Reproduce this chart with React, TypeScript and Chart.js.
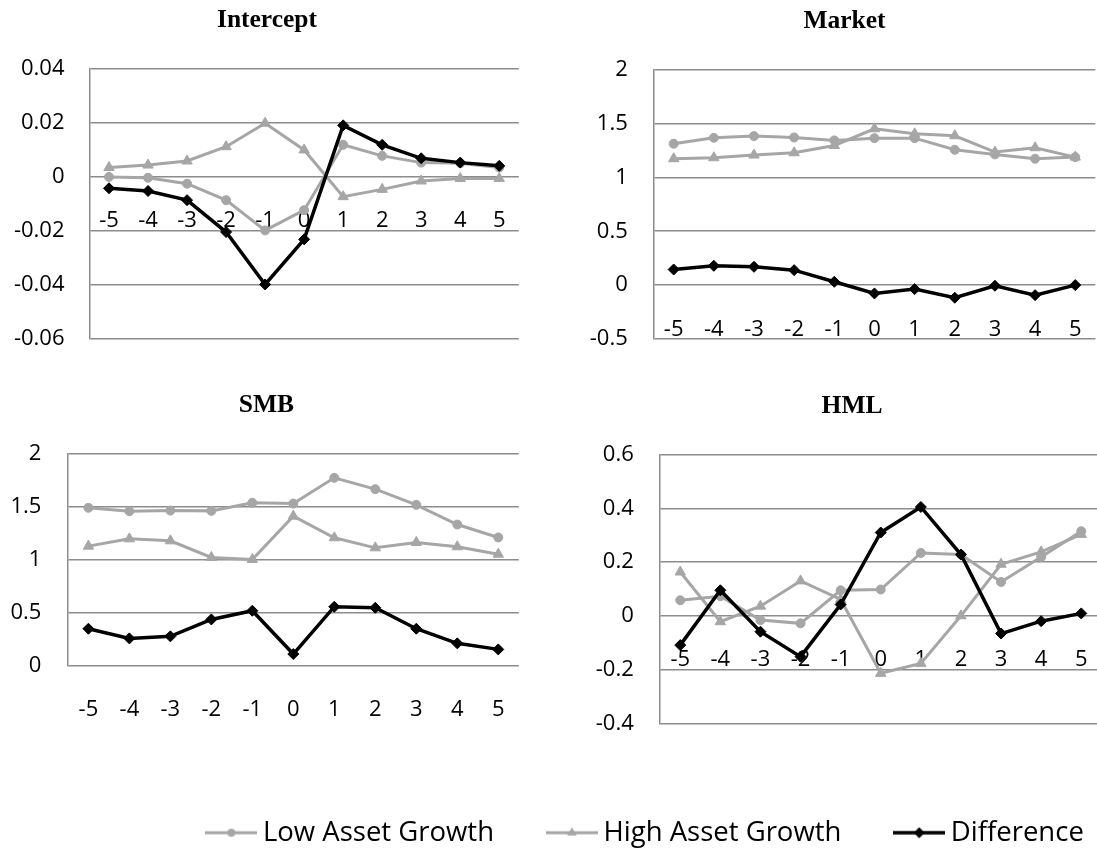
import React, { useEffect, useRef } from 'react';
import { Chart, registerables } from 'chart.js';

Chart.register(...registerables);

// ---------------- data ----------------
const PERIODS = ['-5', '-4', '-3', '-2', '-1', '0', '1', '2', '3', '4', '5'];
const SERIES_NAMES = ['Low Asset Growth', 'High Asset Growth', 'Difference'];

const INTERCEPT_LOW = [0.0, -0.0003, -0.0025, -0.0086, -0.0198, -0.0123, 0.0119, 0.0078, 0.0053, 0.0051, 0.0035];
const INTERCEPT_HIGH = [0.0035, 0.0044, 0.0059, 0.0112, 0.0199, 0.01, -0.0073, -0.0046, -0.0015, -0.0006, -0.0006];
const INTERCEPT_DIFF = [-0.0042, -0.0052, -0.0086, -0.0204, -0.0398, -0.0231, 0.0191, 0.0119, 0.0069, 0.0053, 0.0041];
const INTERCEPT_TICKS = [-0.06, -0.04, -0.02, 0, 0.02, 0.04];

const MARKET_LOW = [1.312, 1.367, 1.383, 1.37, 1.343, 1.364, 1.364, 1.256, 1.213, 1.173, 1.188];
const MARKET_HIGH = [1.173, 1.182, 1.207, 1.228, 1.296, 1.451, 1.404, 1.386, 1.235, 1.275, 1.188];
const MARKET_DIFF = [0.145, 0.179, 0.17, 0.139, 0.031, -0.077, -0.037, -0.117, -0.006, -0.093, 0.0];
const MARKET_TICKS = [-0.5, 0, 0.5, 1, 1.5, 2];

const SMB_LOW = [1.491, 1.459, 1.465, 1.462, 1.538, 1.531, 1.774, 1.667, 1.519, 1.333, 1.211];
const SMB_HIGH = [1.129, 1.198, 1.179, 1.022, 1.003, 1.412, 1.208, 1.113, 1.164, 1.123, 1.053];
const SMB_DIFF = [0.349, 0.258, 0.277, 0.437, 0.519, 0.11, 0.557, 0.547, 0.349, 0.211, 0.154];
const SMB_TICKS = [0, 0.5, 1, 1.5, 2];

const HML_LOW = [0.058, 0.073, -0.016, -0.028, 0.095, 0.098, 0.234, 0.228, 0.126, 0.219, 0.315];
const HML_HIGH = [0.163, -0.022, 0.036, 0.13, 0.061, -0.214, -0.177, 0.0, 0.192, 0.238, 0.303];
const HML_DIFF = [-0.109, 0.095, -0.059, -0.152, 0.042, 0.31, 0.405, 0.228, -0.066, -0.02, 0.009];
const HML_TICKS = [-0.4, -0.2, 0, 0.2, 0.4, 0.6];

// ---------------- styles ----------------
const GRAY = '#a6a6a6';
const BLACK = '#000000';
const GRID = '#8c8c8c';
const TICK_FONT = { family: '"Open Sans", sans-serif', size: 22 };
const TITLE_FONT = { family: '"Liberation Serif", serif', size: 25.5, weight: 'bold' as const, lineHeight: 1.2 };
const X_TICK_PAD = 31;

type PanelCfg = {
  title: string;
  low: number[];
  high: number[];
  diff: number[];
  ticks: number[];
  box: { left: number; top: number; width: number; height: number };
  yWidth: number;
  tickPad: number;
  titleTop: number;
  titleBottom: number;
  padBottom: number;
  padRight: number;
};

const PANELS: PanelCfg[] = [
  {
    title: 'Intercept', low: INTERCEPT_LOW, high: INTERCEPT_HIGH, diff: INTERCEPT_DIFF, ticks: INTERCEPT_TICKS,
    box: { left: 7, top: 0, width: 530, height: 384 }, yWidth: 82.5, tickPad: 25,
    titleTop: 5.1, titleBottom: 33.2, padBottom: 45, padRight: 10,
  },
  {
    title: 'Market', low: MARKET_LOW, high: MARKET_HIGH, diff: MARKET_DIFF, ticks: MARKET_TICKS,
    box: { left: 586, top: 0, width: 527, height: 384 }, yWidth: 67.6, tickPad: 25.8,
    titleTop: 6.6, titleBottom: 32.4, padBottom: 45, padRight: 10,
  },
  {
    title: 'SMB', low: SMB_LOW, high: SMB_HIGH, diff: SMB_DIFF, ticks: SMB_TICKS,
    box: { left: 7, top: 360, width: 529, height: 360 }, yWidth: 60.9, tickPad: 26.5,
    titleTop: 29.9, titleBottom: 33.4, padBottom: 54.3, padRight: 10,
  },
  {
    title: 'HML', low: HML_LOW, high: HML_HIGH, diff: HML_DIFF, ticks: HML_TICKS,
    box: { left: 595, top: 360, width: 524, height: 408 }, yWidth: 65.2, tickPad: 26.4,
    titleTop: 31.6, titleBottom: 32.4, padBottom: 44.7, padRight: 10,
  },
];

function Panel({ cfg }: { cfg: PanelCfg }) {
  const ref = useRef<HTMLCanvasElement>(null);
  useEffect(() => {
    if (!ref.current) return;
    const ticks = cfg.ticks;
    const chart = new Chart(ref.current, {
      type: 'line',
      data: {
        labels: PERIODS,
        datasets: [
          {
            label: SERIES_NAMES[0], data: cfg.low, order: 2,
            borderColor: GRAY, backgroundColor: GRAY, borderWidth: 3,
            pointStyle: 'circle', pointRadius: 4.5, pointBackgroundColor: GRAY, pointBorderColor: GRAY, pointBorderWidth: 1,
            tension: 0,
          },
          {
            label: SERIES_NAMES[1], data: cfg.high, order: 1,
            borderColor: GRAY, backgroundColor: GRAY, borderWidth: 3,
            pointStyle: 'triangle', pointRadius: 6, pointBackgroundColor: GRAY, pointBorderColor: GRAY, pointBorderWidth: 1,
            tension: 0,
          },
          {
            label: SERIES_NAMES[2], data: cfg.diff, order: 0,
            borderColor: BLACK, backgroundColor: BLACK, borderWidth: 3.5,
            pointStyle: 'rectRot', pointRadius: 5.5, pointBackgroundColor: BLACK, pointBorderColor: BLACK, pointBorderWidth: 1,
            tension: 0,
          },
        ],
      },
      options: {
        animation: false,
        responsive: true,
        maintainAspectRatio: false,
        events: [],
        layout: { padding: { left: 0, top: 0, right: cfg.padRight, bottom: cfg.padBottom } },
        plugins: {
          legend: { display: false },
          tooltip: { enabled: false },
          title: {
            display: true,
            text: cfg.title,
            color: '#000',
            font: TITLE_FONT,
            padding: { top: cfg.titleTop, bottom: cfg.titleBottom },
          },
        },
        scales: {
          x: {
            type: 'category',
            offset: true,
            position: { y: 0 } as any,
            grid: { display: false, drawTicks: false, tickLength: 0 },
            border: { display: false },
            ticks: { padding: X_TICK_PAD, font: TICK_FONT, color: '#000', autoSkip: false, maxRotation: 0 },
          },
          y: {
            type: 'linear',
            min: ticks[0],
            max: ticks[ticks.length - 1],
            afterBuildTicks: (s: any) => {
              s.ticks = ticks.map((v) => ({ value: v }));
            },
            afterFit: (s: any) => {
              s.width = cfg.yWidth;
            },
            grid: { color: GRID, lineWidth: 1.5, drawTicks: false, tickLength: 0 },
            border: { display: true, color: GRID, width: 1.5 },
            ticks: {
              padding: cfg.tickPad,
              font: TICK_FONT,
              color: '#000',
              autoSkip: false,
              callback: (v: any) => String(v),
            },
          },
        },
      },
    });
    return () => chart.destroy();
  }, [cfg]);

  return (
    <div
      style={{
        position: 'absolute',
        left: cfg.box.left,
        top: cfg.box.top,
        width: cfg.box.width,
        height: cfg.box.height,
      }}
    >
      <canvas ref={ref} />
    </div>
  );
}

function makeMarker(kind: 'circle' | 'triangle' | 'diamond'): HTMLCanvasElement {
  const c = document.createElement('canvas');
  c.width = 52;
  c.height = 16;
  const ctx = c.getContext('2d')!;
  const color = kind === 'diamond' ? BLACK : GRAY;
  ctx.strokeStyle = color;
  ctx.fillStyle = color;
  ctx.lineWidth = kind === 'diamond' ? 3.5 : 3;
  ctx.beginPath();
  ctx.moveTo(0, 8);
  ctx.lineTo(52, 8);
  ctx.stroke();
  ctx.beginPath();
  if (kind === 'circle') {
    ctx.arc(26, 8, 4, 0, Math.PI * 2);
  } else if (kind === 'triangle') {
    const r = 5.5;
    ctx.moveTo(26, 8 - r);
    ctx.lineTo(26 + r * 0.866, 8 + r * 0.5);
    ctx.lineTo(26 - r * 0.866, 8 + r * 0.5);
    ctx.closePath();
  } else {
    const r = 5.5;
    ctx.moveTo(26, 8 - r);
    ctx.lineTo(26 + r, 8);
    ctx.lineTo(26, 8 + r);
    ctx.lineTo(26 - r, 8);
    ctx.closePath();
  }
  ctx.fill();
  return c;
}

function Legend() {
  const ref = useRef<HTMLCanvasElement>(null);
  useEffect(() => {
    if (!ref.current) return;
    const markers = [makeMarker('circle'), makeMarker('triangle'), makeMarker('diamond')];
    const colors = [GRAY, GRAY, BLACK];
    const chart = new Chart(ref.current, {
      type: 'line',
      data: {
        labels: [],
        datasets: SERIES_NAMES.map((name, i) => ({ label: name, data: [], borderColor: colors[i] })),
      },
      options: {
        animation: false,
        responsive: true,
        maintainAspectRatio: false,
        events: [],
        layout: { padding: { left: 153.5, top: 19 } },
        scales: { x: { display: false }, y: { display: false } },
        plugins: {
          tooltip: { enabled: false },
          title: { display: false },
          legend: {
            display: true,
            position: 'top',
            align: 'start',
            labels: {
              usePointStyle: true,
              pointStyleWidth: 35.7,
              padding: 60,
              color: '#000',
              font: { family: '"Open Sans", sans-serif', size: 27.5 },
              generateLabels: () =>
                SERIES_NAMES.map((name, i) => ({
                  text: name,
                  pointStyle: markers[i] as any,
                  fillStyle: colors[i],
                  strokeStyle: colors[i],
                  lineWidth: 0,
                  hidden: false,
                  datasetIndex: i,
                  fontColor: '#000',
                })),
            },
          },
        },
      },
    });
    return () => chart.destroy();
  }, []);
  return (
    <div style={{ position: 'absolute', left: 0, top: 740, width: 1300, height: 260 }}>
      <canvas ref={ref} />
    </div>
  );
}

export default function App() {
  return (
    <div
      style={{
        position: 'absolute',
        left: 0,
        top: 0,
        width: 1097,
        height: 848,
        overflow: 'hidden',
        background: '#ffffff',
      }}
    >
      {PANELS.map((p) => (
        <Panel key={p.title} cfg={p} />
      ))}
      <Legend />
    </div>
  );
}
